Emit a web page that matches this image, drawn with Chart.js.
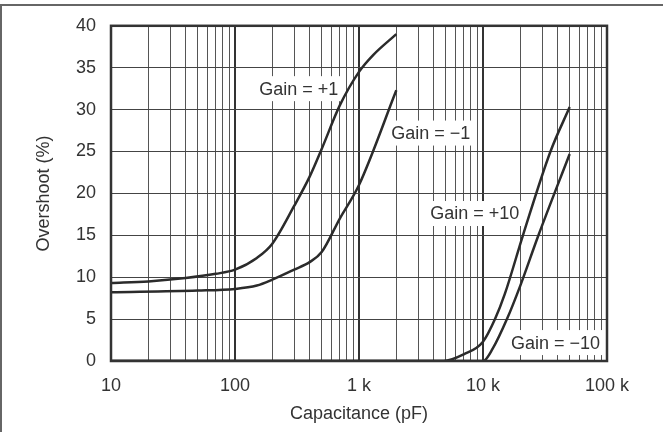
<!DOCTYPE html>
<html>
<head>
<meta charset="utf-8">
<script src="https://cdn.jsdelivr.net/npm/chart.js@4.4.1/dist/chart.umd.min.js"></script>
<style>
  html, body { margin: 0; padding: 0; background: #fff; }
</style>
</head>
<body>
<canvas id="chart" width="663" height="432"></canvas>
<script>
// Overshoot (%) vs load capacitance (pF)
const gainP1X = [10, 20, 40, 70, 100, 150, 200, 300, 400, 500, 700, 1000, 1300, 2000];
const gainP1Y = [9.3, 9.5, 9.9, 10.4, 10.9, 12.3, 14, 18.5, 22, 25.3, 30.5, 34.5, 36.5, 39];

const gainM1X = [10, 50, 100, 150, 200, 300, 400, 500, 700, 1000, 2000];
const gainM1Y = [8.2, 8.4, 8.6, 9.0, 9.7, 10.9, 11.8, 13, 17, 21, 32.3];

const gainP10X = [10, 4800, 7000, 10000, 12500, 15000, 21000, 35000, 50000];
const gainP10Y = [0, 0, 0.8, 2.3, 5, 8, 15, 25, 30.3];

const gainM10X = [10, 10000, 12000, 15600, 20000, 28000, 50000];
const gainM10Y = [0, 0, 1.5, 5, 9, 15, 24.7];

// curve labels: text, x (pF), y (%)
const labelText = ['Gain = +1', 'Gain = \u22121', 'Gain = +10', 'Gain = \u221210'];
const labelX = [327, 3790, 8570, 38500];
const labelY = [32.5, 27.2, 17.6, 2.2];

const xTicks = [];
for (let d = 10; d < 100000; d *= 10) {
  for (let m = 1; m < 10; m++) xTicks.push(d * m);
}
xTicks.push(100000);
const decadeNames = { 10: '10', 100: '100', 1000: '1 k', 10000: '10 k', 100000: '100 k' };

const toPoints = (xs, ys) => xs.map((x, i) => ({ x, y: ys[i] }));

const lineColor = '#2b2b2b';
const curve = (label, xs, ys) => ({
  label,
  data: toPoints(xs, ys),
  borderColor: lineColor,
  borderWidth: 2.5,
  pointRadius: 0,
  fill: false,
  cubicInterpolationMode: 'monotone',
});

const overlay = {
  id: 'overlay',
  beforeDraw(chart) {
    const { ctx } = chart;
    ctx.save();
    ctx.strokeStyle = '#666';
    ctx.lineWidth = 2;
    ctx.beginPath();
    ctx.moveTo(0, 5);
    ctx.lineTo(663, 5);
    ctx.moveTo(1, 5);
    ctx.lineTo(1, 432);
    ctx.stroke();
    ctx.restore();
  },
  beforeDatasetsDraw(chart) {
    const { ctx, scales } = chart;
    ctx.save();
    ctx.font = '18px "Liberation Sans", Arial, sans-serif';
    ctx.textAlign = 'center';
    ctx.textBaseline = 'middle';
    labelText.forEach((t, i) => {
      const px = scales.x.getPixelForValue(labelX[i]);
      const py = scales.y.getPixelForValue(labelY[i]);
      const w = ctx.measureText(t).width + 8;
      ctx.fillStyle = '#fff';
      ctx.fillRect(px - w / 2, py - 12.5, w, 25);
      ctx.fillStyle = '#333';
      ctx.fillText(t, px, py + 1);
    });
    ctx.restore();
  },
  afterDatasetsDraw(chart) {
    const { ctx, chartArea: a } = chart;
    ctx.save();
    ctx.strokeStyle = '#333';
    ctx.lineWidth = 2.5;
    ctx.strokeRect(a.left, a.top, a.right - a.left, a.bottom - a.top);
    ctx.restore();
  },
};

Chart.defaults.font.family = '"Liberation Sans", Arial, sans-serif';
Chart.defaults.font.size = 18;
Chart.defaults.color = '#333';

// eslint-disable-next-line no-undef, no-unused-vars
const chart = new Chart(document.getElementById('chart'), {
  type: 'line',
  data: {
    datasets: [
      curve('Gain = +1', gainP1X, gainP1Y),
      curve('Gain = -1', gainM1X, gainM1Y),
      curve('Gain = +10', gainP10X, gainP10Y),
      curve('Gain = -10', gainM10X, gainM10Y),
    ],
  },
  options: {
    responsive: false,
    animation: false,
    devicePixelRatio: 1,
    layout: { padding: { top: 25, right: 56, bottom: 0, left: 0 } },
    plugins: {
      legend: { display: false },
      tooltip: { enabled: false },
    },
    scales: {
      x: {
        type: 'logarithmic',
        min: 10,
        max: 100000,
        afterBuildTicks: (scale) => {
          scale.ticks = xTicks.map((v) => ({ value: v }));
        },
        afterFit: (scale) => {
          scale.height = 71;
        },
        ticks: {
          autoSkip: false,
          maxRotation: 0,
          padding: 14,
          callback: (v) => decadeNames[v] || '',
        },
        grid: {
          drawTicks: false,
          color: (c) => (decadeNames[c.tick && c.tick.value] ? '#333' : '#555'),
          lineWidth: (c) => (decadeNames[c.tick && c.tick.value] ? 2 : 1),
        },
        border: { display: false },
        title: {
          display: true,
          text: 'Capacitance (pF)',
          padding: { top: 0, bottom: 7 },
        },
      },
      y: {
        min: 0,
        max: 40,
        afterFit: (scale) => {
          scale.width = 111;
        },
        ticks: { stepSize: 5, padding: 15 },
        grid: { drawTicks: false, color: '#444', lineWidth: 1 },
        border: { display: false },
        title: {
          display: true,
          text: 'Overshoot (%)',
          padding: { top: 33, bottom: 0 },
        },
      },
    },
  },
  plugins: [overlay],
});
</script>
</body>
</html>
